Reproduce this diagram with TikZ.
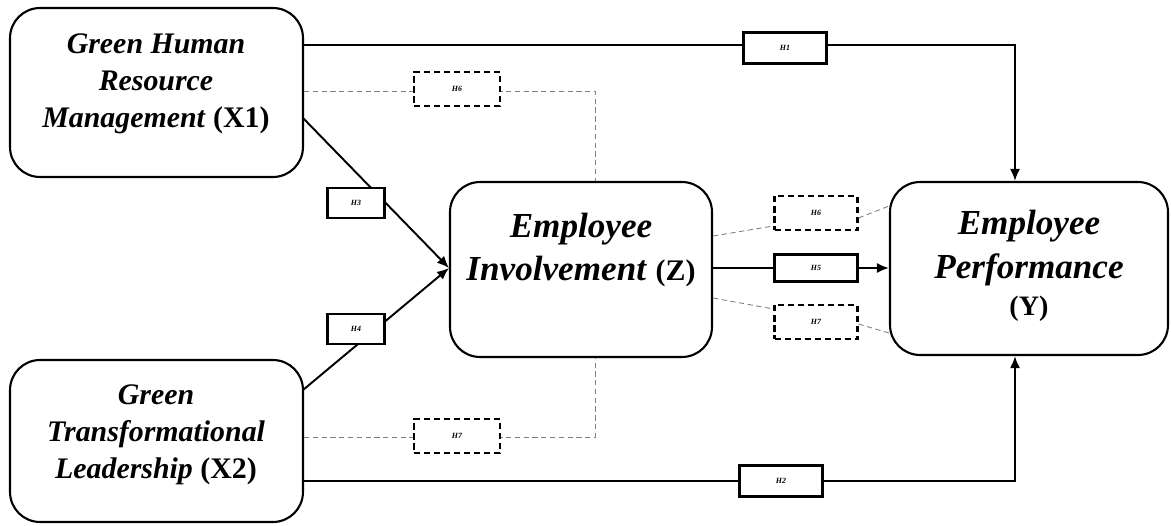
\documentclass[tikz,border=0pt]{standalone}
\usepackage{fontspec}
\setmainfont{Liberation Serif}
\usetikzlibrary{arrows.meta}
\tikzset{
  bigbox/.style={draw, line width=1.2pt, rounded corners=0.6cm, inner sep=0pt},
  bigtxt/.style={align=center, font=\bfseries\fontsize{17}{21}\selectfont, inner sep=0pt},
  midtxt/.style={align=center, font=\bfseries\fontsize{20}{25}\selectfont, inner sep=0pt},
  lblbox/.style={draw, fill=white, line width=1.2pt, minimum width=1.66cm, minimum height=0.6cm, inner sep=0pt, font=\bfseries\itshape\fontsize{4.5}{4.5}\selectfont},
  dlblbox/.style={lblbox, dash pattern=on 3.5pt off 2.2pt, minimum height=0.68cm},
  link/.style={line width=1.1pt},
  dlink/.style={gray, line width=0.5pt, dash pattern=on 3pt off 2pt},
  arr/.style={-{Latex[length=2.4mm,width=2mm]}}
}
\begin{document}
\begin{tikzpicture}[x=0.02cm,y=-0.02cm]
\useasboundingbox (0,0) rectangle (1171,525);
% main boxes
\node[bigbox, minimum width=5.86cm, minimum height=3.38cm] (X1) at (156.5,92.5) {};
\node[bigbox, minimum width=5.86cm, minimum height=3.24cm] (X2) at (156.5,441) {};
\node[bigbox, minimum width=5.24cm, minimum height=3.5cm] (Z) at (581,269.5) {};
\node[bigbox, minimum width=5.56cm, minimum height=3.46cm] (Y) at (1029,268.5) {};
\node[bigtxt] (tX1) at (156,84) {\textit{Green Human}\\ \textit{Resource}\\ \textit{Management} (X1)};
\node[bigtxt] (tX2) at (156,435) {\textit{Green}\\ \textit{Transformational}\\ \textit{Leadership} (X2)};
\node[midtxt] (tZ) at (581,250) {\textit{Employee}\\ \textit{Involvement} \fontsize{17}{21}\selectfont(Z)};
\node[midtxt] (tY) at (1029,266) {\textit{Employee}\\ \textit{Performance}\\[-4pt] \fontsize{16}{21}\selectfont(Y)};
% coordinates
\coordinate (c1) at (1015,45);
\coordinate (c2) at (1015,481);
\coordinate (d1) at (595,91);
\coordinate (d2) at (595,437);
\coordinate (s1) at (303,118);
\coordinate (s2) at (303,390);
\coordinate (m) at (449,268);
% solid connectors
\draw[link, arr] (X1.east |- c1) -- (c1) -- (c1 |- Y.north);
\draw[link, arr] (X2.east |- c2) -- (c2) -- (c2 |- Y.south);
\draw[link, arr] (s1) -- (m);
\draw[link, arr] (s2) -- (m);
\draw[link, arr] (Z.east |- 0,268) -- (Y.west |- 0,268);
% dashed connectors
\draw[dlink] (X1.east |- d1) -- (d1) -- (d1 |- Z.north);
\draw[dlink] (X2.east |- d2) -- (d2) -- (d2 |- Z.south);
\node[dlblbox, minimum width=1.72cm] (h6a) at (457,89) {H6};
\node[dlblbox, minimum width=1.72cm] (h7a) at (457,436) {H7};
\node[dlblbox] (h6b) at (816,213) {H6};
\node[dlblbox] (h7b) at (816,322) {H7};
\draw[dlink] (Z.east |- 0,236) -- (h6b.west |- 0,226);
\draw[dlink] (h6b.east |- 0,218) -- (Y.west |- 0,206);
\draw[dlink] (Z.east |- 0,298) -- (h7b.west |- 0,309);
\draw[dlink] (h7b.east |- 0,324) -- (Y.west |- 0,333);
% solid labels
\node[lblbox, minimum height=0.62cm] (h1) at (785,48) {H1};
\node[lblbox, minimum height=0.62cm] (h2) at (781,481) {H2};
\node[lblbox, minimum width=1.14cm] (h3) at (356,203) {H3};
\node[lblbox, minimum width=1.14cm] (h4) at (356,329) {H4};
\node[lblbox, minimum height=0.54cm] (h5) at (816,268) {H5};
\end{tikzpicture}
\end{document}
